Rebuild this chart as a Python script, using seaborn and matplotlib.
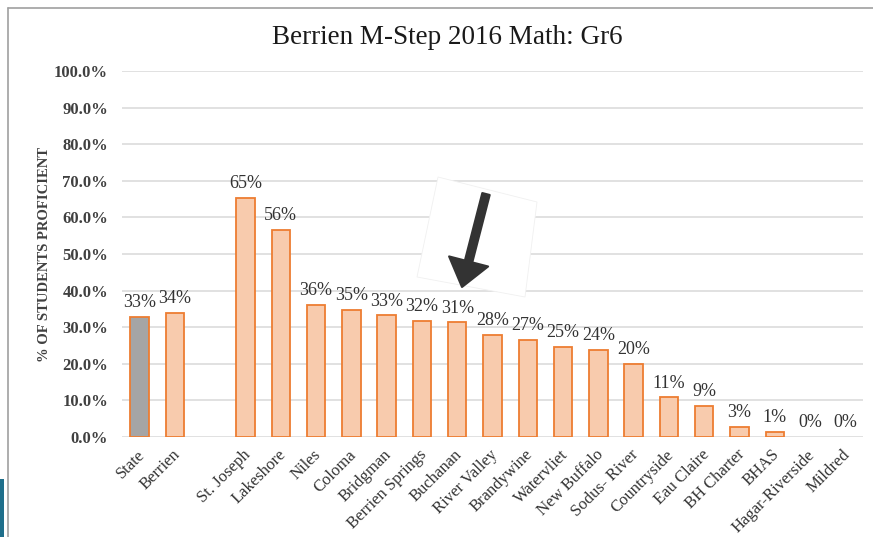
import pandas as pd
import numpy as np
import matplotlib
matplotlib.use("Agg")
import matplotlib.pyplot as plt
import matplotlib.transforms as mtransforms
import seaborn as sns
from matplotlib.patches import Polygon, Rectangle, FancyArrowPatch, ArrowStyle
from matplotlib.lines import Line2D

# data (percent proficient)
schools = ["State", "Berrien", "St. Joseph", "Lakeshore", "Niles", "Coloma",
           "Bridgman", "Berrien Springs", "Buchanan", "River Valley", "Brandywine",
           "Watervliet", "New Buffalo", "Sodus- River", "Countryside", "Eau Claire",
           "BH Charter", "BHAS", "Hagar-Riverside", "Mildred"]
pct = [32.9, 34.0, 65.4, 56.5, 36.0, 34.7, 33.2, 31.7, 31.3, 27.9, 26.6,
       24.6, 23.8, 20.0, 10.8, 8.6, 2.7, 1.3, 0.0, 0.0]
groups = ["state"] + ["district"] * (len(schools) - 1)

# blank slot between Berrien and the districts
order = schools[:2] + [" "] + schools[2:]

df = pd.DataFrame({"School": schools, "Pct": pct, "Group": groups})

sns.set_theme(style="white")
plt.rcParams["font.family"] = ["Liberation Serif", "DejaVu Serif"]

fig = plt.figure(figsize=(8.73, 5.37), dpi=100)
ax = fig.add_axes([122 / 873, 1 - 437 / 537, 741 / 873, 366 / 537])

sns.barplot(data=df, x="School", y="Pct", hue="Group", order=order,
            hue_order=["state", "district"], dodge=False, saturation=1,
            palette={"state": "#A5A5A5", "district": "#F8CBAD"},
            edgecolor="#ED7D31", linewidth=1.3, width=0.52,
            legend=False, ax=ax, zorder=3)

# zero bars show nothing in the original
for p in ax.patches:
    if p.get_height() == 0:
        p.set_linewidth(0)

# value labels
for name, v in zip(schools, pct):
    i = order.index(name)
    ax.text(i, v + 1.6, f"{round(v):.0f}%", ha="center", va="bottom",
            fontsize=13, color="#333333", zorder=5)

ax.set_ylim(0, 100)
ax.set_xlim(-0.5, len(order) - 0.5)
ax.set_yticks(np.arange(0, 101, 10))
ax.set_yticklabels([f"{t:.1f}%" for t in np.arange(0, 101, 10)],
                   fontsize=12, fontweight="bold", color="#404040")
ax.yaxis.grid(True, color="#dcdcdc", linewidth=1.2, zorder=0)
ax.set_axisbelow(True)
for s in ax.spines.values():
    s.set_visible(False)
ax.tick_params(axis="y", length=0, pad=10)
ax.set_xticks(range(len(order)))
ax.set_xticklabels(order, rotation=45, ha="right", rotation_mode="anchor",
                   fontsize=12, color="#333333")
ax.tick_params(axis="x", length=0, pad=7)
shift = mtransforms.ScaledTranslation(-3 / 100, 0, fig.dpi_scale_trans)
for lab in ax.get_xticklabels():
    lab.set_transform(lab.get_transform() + shift)
ax.set_xlabel("")
ax.set_ylabel("% OF STUDENTS PROFICIENT", fontsize=10.5, fontweight="bold",
              color="#404040", labelpad=2)

fig.text(447 / 873, 1 - 38 / 537, "Berrien M-Step 2016 Math: Gr6",
         ha="center", va="center", fontsize=19.5, color="#1a1a1a")

# pasted arrow picture with its white backing
def fp(x, y):
    return (x, 537 - y)

patch = Polygon([fp(438, 177), fp(537, 202), fp(525, 297), fp(417, 277)],
                closed=True, transform=None, facecolor="white",
                edgecolor="#f0f0f0", linewidth=0.6, zorder=4)
fig.add_artist(patch)
arrow = FancyArrowPatch(fp(486, 194), fp(462, 287),
                        arrowstyle=ArrowStyle.Simple(head_length=19, head_width=29,
                                                     tail_width=5.5),
                        mutation_scale=1, transform=None,
                        color="#333333", capstyle="round", joinstyle="round",
                        linewidth=1.5, shrinkA=0, shrinkB=0, zorder=6)
fig.add_artist(arrow)

# outer frame of the screenshot
fig.add_artist(Line2D([8 / 873, 1], [1 - 8 / 537] * 2, transform=fig.transFigure,
                      color="#a0a0a0", linewidth=1.2))
fig.add_artist(Line2D([8 / 873] * 2, [0, 1 - 8 / 537], transform=fig.transFigure,
                      color="#a0a0a0", linewidth=1.2))
fig.add_artist(Rectangle((0, 0), 4 / 873, 58 / 537, transform=fig.transFigure,
                         facecolor="#1f6f8b", edgecolor="none"))

fig.savefig("out.png", dpi=100)
